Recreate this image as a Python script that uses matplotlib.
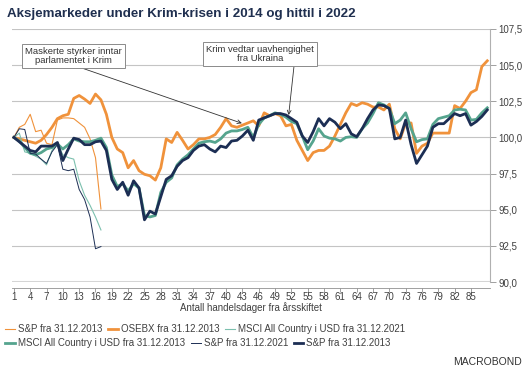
import matplotlib
matplotlib.use("Agg")
from matplotlib import pyplot as plt

plt.rcParams['font.family'] = ['Liberation Sans', 'DejaVu Sans']

# trading days since new year
days = list(range(1, 89))
days_2022 = list(range(1, 18))

osebx_2013 = [100.0, 99.9, 99.8, 99.7, 99.6, 99.8, 100.2, 100.7, 101.3, 101.5,
              101.6, 102.7, 102.9, 102.65, 102.35, 103.0, 102.6, 101.6, 100.0, 99.2,
              98.95, 97.9, 98.4, 97.7, 97.45, 97.35, 97.05, 97.9, 99.9, 99.65,
              100.35, 99.8, 99.2, 99.5, 99.9, 99.9, 100.0, 100.2, 100.7, 101.3,
              100.8, 100.7, 100.85, 101.0, 101.15, 100.8, 101.7, 101.5, 101.65, 101.5,
              100.8, 100.9, 99.8, 99.1, 98.4, 98.95, 99.1, 99.1, 99.4, 100.1,
              100.9, 101.7, 102.35, 102.2, 102.4, 102.3, 102.1, 102.1, 101.9, 102.3,
              100.6, 99.9, 101.0, 101.0, 98.9, 99.4, 99.6, 100.3, 100.3, 100.3,
              100.3, 102.2, 102.0, 102.5, 103.1, 103.3, 104.9, 105.3]

sp_2013 = [100.0, 99.7, 99.4, 99.1, 99.0, 99.4, 99.4, 99.4, 99.65, 98.4,
           99.2, 99.95, 99.85, 99.5, 99.5, 99.7, 99.75, 99.1, 97.1, 96.4,
           96.9, 96.0, 97.0, 96.5, 94.3, 94.9, 94.7, 95.9, 97.1, 97.35,
           98.0, 98.4, 98.6, 99.1, 99.4, 99.5, 99.2, 99.0, 99.4, 99.3,
           99.75, 99.8, 100.1, 100.5, 99.8, 101.2, 101.35, 101.5, 101.65, 101.65,
           101.55, 101.3, 101.05, 100.1, 99.65, 100.4, 101.3, 100.8, 101.3, 101.05,
           100.6, 100.95, 100.25, 100.05, 100.6, 101.3, 101.9, 102.25, 102.2, 102.0,
           99.9, 100.0, 101.2, 99.5, 98.2, 98.8, 99.4, 100.7, 100.95, 100.95,
           101.3, 101.65, 101.5, 101.65, 100.85, 101.1, 101.45, 101.9]

msci_2013 = [100.0, 99.75, 99.3, 98.9, 98.8, 98.95, 99.2, 99.3, 99.55, 99.2,
             99.5, 99.9, 99.75, 99.7, 99.7, 99.8, 99.95, 99.3, 97.4, 96.6,
             96.8, 96.3, 96.8, 96.5, 94.6, 94.5, 94.6, 96.2, 96.9, 97.2,
             98.1, 98.5, 98.8, 99.2, 99.6, 99.7, 99.75, 99.65, 99.9, 100.3,
             100.45, 100.45, 100.55, 100.7, 100.0, 100.9, 101.35, 101.5, 101.7, 101.6,
             101.4, 101.1, 100.95, 100.1, 99.15, 99.75, 100.6, 100.1, 99.95, 99.9,
             99.75, 100.0, 100.05, 100.0, 100.6, 101.0, 101.65, 102.4, 102.25, 102.0,
             100.95, 101.2, 101.7, 100.6, 99.7, 99.85, 99.9, 100.9, 101.3, 101.4,
             101.5, 101.9, 101.95, 101.9, 101.2, 101.25, 101.7, 102.05]

sp_2021_orange = [100.0, 100.7, 100.9, 101.6, 100.4, 100.5, 99.6, 99.5, 101.2, 101.35,
                  101.35, 101.3, 101.0, 100.7, 99.9, 98.6, 95.05]
msci_2021 = [100.0, 100.3, 99.0, 98.9, 98.7, 98.5, 98.1, 99.1, 99.6, 98.8,
             98.6, 98.5, 97.0, 96.0, 95.3, 94.5, 93.6]
sp_2021 = [100.0, 100.6, 100.55, 98.9, 98.85, 98.5, 98.2, 99.0, 99.5, 97.8,
           97.7, 97.8, 96.4, 95.7, 94.5, 92.3, 92.45]

xticks = list(range(1, 86, 3))
yticks = [90.0, 92.5, 95.0, 97.5, 100.0, 102.5, 105.0, 107.5]

orange = "#F0923B"
teal = "#55A48E"
teal_light = "#7CC0AE"
navy = "#1C2E54"
grid_col = "#c4c4c4"
txt = "#404040"

fig = plt.figure(figsize=(5.29, 3.74), dpi=100)
ax = fig.add_axes([11.7 / 529, 1 - 282 / 374, (490 - 11.7) / 529, 253 / 374])

l1, = ax.plot(days_2022, sp_2021_orange, color=orange, lw=0.8, label="S&P fra 31.12.2013")
l2, = ax.plot(days, osebx_2013, color=orange, lw=2.0, label="OSEBX fra 31.12.2013")
l3, = ax.plot(days_2022, msci_2021, color=teal_light, lw=0.8, label="MSCI All Country i USD fra 31.12.2021")
l4, = ax.plot(days, msci_2013, color=teal, lw=2.0, label="MSCI All Country i USD fra 31.12.2013")
l5, = ax.plot(days_2022, sp_2021, color=navy, lw=0.7, label="S&P fra 31.12.2021")
l6, = ax.plot(days, sp_2013, color=navy, lw=2.0, label="S&P fra 31.12.2013")

ax.set_xlim(0.6, 88.5)
ax.set_ylim(90, 107.5)
ax.set_yticks(yticks)
ax.set_yticklabels([f"{v:.1f}".replace(".", ",") for v in yticks])
ax.set_xticks(xticks)
ax.set_xticklabels([str(t) for t in xticks])
ax.yaxis.tick_right()
ax.grid(axis='y', color=grid_col, lw=0.8)
ax.set_axisbelow(True)
ax.axhline(90, color="#d6d6d6", lw=2.2, zorder=0.5)

for s in ['top', 'left']:
    ax.spines[s].set_visible(False)
ax.spines['right'].set_color("#b0b0b0")
ax.spines['right'].set_linewidth(0.8)
ax.spines['bottom'].set_position(('outward', 4))
ax.spines['bottom'].set_color("#909090")
ax.spines['bottom'].set_linewidth(0.6)
ax.tick_params(axis='y', colors="#909090", labelcolor=txt, labelsize=7, length=4, width=0.6, pad=2)
ax.tick_params(axis='x', colors="#909090", labelcolor=txt, labelsize=7, length=3, width=0.6, pad=0.5)
ax.set_xlabel("Antall handelsdager fra årsskiftet", fontsize=7, color=txt, labelpad=0)

box = dict(boxstyle="square,pad=0.35", fc="white", ec="#8a8a8a", lw=0.7)
ax.annotate("Maskerte styrker inntar\nparlamentet i Krim", xy=(42.9, 100.98), xytext=(11.9, 105.63),
            fontsize=6.8, color="#333333", ha='center', va='center', bbox=box, linespacing=1.0,
            arrowprops=dict(arrowstyle="->", color="#333333", lw=0.6, relpos=(0.5, 0.0),
                            shrinkA=0, shrinkB=0))
ax.annotate("Krim vedtar uavhengighet\nfra Ukraina", xy=(51.5, 101.55), xytext=(46.2, 105.77),
            fontsize=6.8, color="#333333", ha='center', va='center', bbox=box, linespacing=1.0,
            arrowprops=dict(arrowstyle="->", color="#333333", lw=0.6, relpos=(0.82, 0.0),
                            shrinkA=0, shrinkB=0))

fig.text(7 / 529, 1 - 14 / 374, "Aksjemarkeder under Krim-krisen i 2014 og hittil i 2022",
         fontsize=9.6, fontweight='bold', color="#1F2F4F", ha='left', va='center')

leg_kw = dict(loc='center left', frameon=False, fontsize=7, handlelength=1.0,
              handletextpad=0.3, columnspacing=0.6, borderpad=0, borderaxespad=0,
              labelcolor=txt)
fig.legend(handles=[l1, l2, l3], ncol=3, bbox_to_anchor=(0.01, 1 - 329 / 374), **leg_kw)
fig.legend(handles=[l4, l5, l6], ncol=3, bbox_to_anchor=(0.01, 1 - 343 / 374), **leg_kw)

fig.text(487 / 529, 1 - 362 / 374, "MACROBOND", fontsize=7.5, color="#333333",
         ha='center', va='center')

fig.savefig("out.png", dpi=100)
